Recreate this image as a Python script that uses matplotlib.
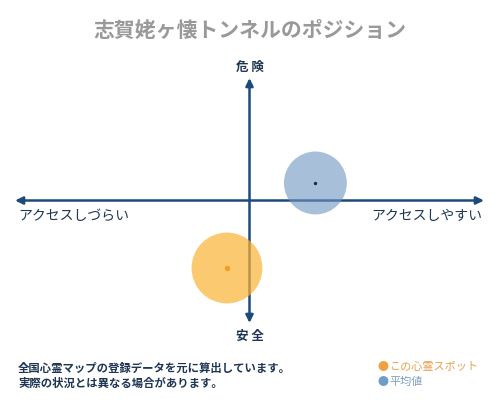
import matplotlib
matplotlib.use("Agg")
import matplotlib.pyplot as plt

plt.rcParams['font.family'] = ['Noto Sans CJK JP', 'DejaVu Sans']

title = "志賀姥ヶ懐トンネルのポジション"
y_top_label = "危 険"
y_bottom_label = "安 全"
x_left_label = "アクセスしづらい"
x_right_label = "アクセスしやすい"
notes = ["全国心霊マップの登録データを元に算出しています。",
         "実際の状況とは異なる場合があります。"]
legend_labels = ["この心霊スポット", "平均値"]

# positions on the map (-10..10 each way)
spot_x, spot_y = [-0.96], [-5.51]
avg_x, avg_y = [2.81], [1.43]

navy = '#1d4a7a'
text_navy = '#1e3553'

fig = plt.figure(figsize=(5, 4), dpi=100)
ax = fig.add_axes([0.03, 0.1925, 0.938, 0.6125])
ax.set_xlim(-10, 10)
ax.set_ylim(-10, 10)
ax.axis('off')

ap = dict(arrowstyle='<|-|>,head_length=0.45,head_width=0.22', color=navy, lw=1.8,
          shrinkA=0, shrinkB=0)
ax.annotate('', xy=(10, 0), xytext=(-10, 0), arrowprops=ap, zorder=1)
ax.annotate('', xy=(0, 10), xytext=(0, -10), arrowprops=ap, zorder=1)

ax.scatter(avg_x, avg_y, s=2050, color='#6f95c0', alpha=0.6, edgecolors='none', zorder=3)
ax.scatter(avg_x, avg_y, s=2, color='#1e2a3a', zorder=4)
ax.scatter(spot_x, spot_y, s=2600, color='#f9b233', alpha=0.7, edgecolors='none', zorder=3)
ax.scatter(spot_x, spot_y, s=8, color='#f0a020', zorder=4)

fig.text(0.5, 1 - 30/400, title, ha='center', va='center', fontsize=15,
         color='#999999', fontweight='bold')
fig.text(0.5, 1 - 67/400, y_top_label, ha='center', va='center', fontsize=9,
         color=text_navy, fontweight='bold')
fig.text(0.5, 1 - 336/400, y_bottom_label, ha='center', va='center', fontsize=9,
         color=text_navy, fontweight='bold')
fig.text(18/500, 1 - 216/400, x_left_label, ha='left', va='center', fontsize=10,
         color=text_navy)
fig.text(482/500, 1 - 216/400, x_right_label, ha='right', va='center', fontsize=10,
         color=text_navy)

for i, line in enumerate(notes):
    fig.text(18/500, 1 - (368 + 15*i)/400, line, ha='left', va='center', fontsize=8.2,
             color=text_navy, fontweight='bold')

legend_dot_colors = ['#f0a040', '#6f9cc8']
legend_text_colors = ['#e8a050', '#7f9fc0']
for i, (lab, dc, tc) in enumerate(zip(legend_labels, legend_dot_colors, legend_text_colors)):
    yy = 1 - (367 + 15*i)/400
    fig.text(377/500, yy, "●", ha='left', va='center', fontsize=8, color=dc)
    fig.text(389/500, yy, lab, ha='left', va='center', fontsize=8, color=tc)

fig.savefig('out.png', dpi=100, facecolor='white')
